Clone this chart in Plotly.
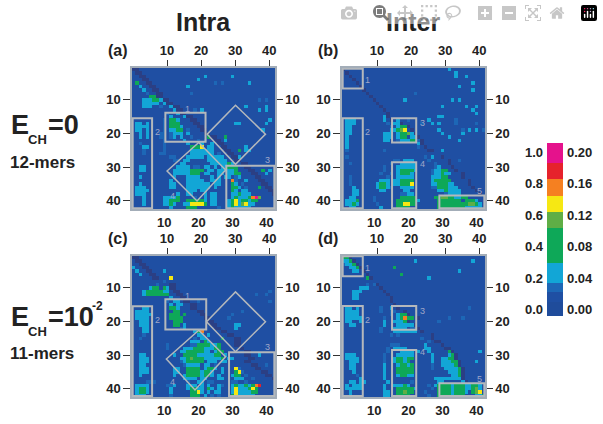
import plotly.graph_objects as go

W, H = 603, 424
# cell levels: . background, d diagonal, a-b blue/cyan, g green, l light green, y yellow, o orange, r red, m magenta
level_values = {".": 0.05, "d": -0.025, "a": 0.14, "b": 0.25, "g": 0.42, "l": 0.57, "y": 0.67, "o": 0.76, "r": 0.86, "m": 1.0}
cbar_edges = [-0.04, 0.05, 0.11, 0.17, 0.30, 0.52, 0.62, 0.72, 0.83, 0.936, 1.06]
cbar_levels = [0.0, 0.05, 0.14, 0.25, 0.42, 0.57, 0.67, 0.76, 0.86, 1.0]

rows_a = [
"dd........................................",
".dd.......................................",
"..dd.................b.......b............",
"...dd..............b......................",
".g..dd..................a.a.......b.......",
"..b..dd.........b.........................",
"...b..dd..................................",
"....a..dd........a........................",
".....ggdd.................................",
"...bbbggbdd..........................a.a..",
"...bbbbb.bdd..............................",
"...bbb..a..bdd...................b.....b..",
"............bdd...a.b................b.b..",
"..........a..bdd..........................",
"...........b...bdd........................",
".........a.ggb...dd.....................b.",
".bb.b....a.ggg....dd..........bb.......b..",
".bbbb....a.gggb....dd.....................",
".bb.b....a.bbgg.a...dd................b...",
"..b.b...aa.abbb.b....dd...................",
"..b.b...aa.ab.b..a....gdd..g..............",
".........a.....b...a.a..dd.b..............",
"..a......a......b...b..b.dd...............",
"...bb....a.......gggy.bb..dd.....b........",
"...a.....a.......bbbbbbb...dd..g.bb.......",
"...a....aa.......bbbbbbb.a..dd............",
"...........aa...bbbbb.bbbbb..ddb..........",
"............aa.bb.....bbbbbb..dd..........",
"..............bb.......bbbbbgb..dd........",
"..bb.........bbbb.aa.bb.b.bbggg..dd.......",
"..bb........bbbbbgggg.bb.bbbbbg...dd..g.b.",
"............bbbbbggg.bb..bb.bbgg...dd..b..",
"..b.........b...bbbb...b.b.bb.ab....dd....",
"...........b....bbbbb..bbb...oa..b...dd...",
"..b........bb...bbbbbbb.bb...gb.a.....dd..",
".bbb.......bb...bbbbbbb.b....ggb.a...g.dd.",
".bbbb...........bbb.bb.......gb.bb......dd",
".bbb.........b..bb...b.bb....bbgbbb......d",
"...b.....bbbbg....a..b.bb....bgbbbgoml....",
"...b.....bbggg..gggggb.bb...bgybggbgg.....",
"...b.....bbgb..bbyyyyg.bb...bgyblybb......",
"...........b....ggg......a..bgbbbbb.......",
]
rows_b = [
"d..............................b..........",
".d...............................b........",
"..d..............................b..b.....",
"...d......................................",
"....d.................................b...",
".....d............................b.......",
"......d...............................b...",
".......d.............a....................",
"........d.................................",
".........d........b.............b.b........",
"..........d................................",
"...........d.................b......b..b..",
"............d.........................b...",
".............d.........................b...",
"............bd..............bb.............",
".bbb........b.d.b..a.....b.......a........",
".bbb.........a.bbd.....a..b.b....a.....a...",
".bb...........a.bggd......................",
".bb...........bbgly.d.......b......a.b.b.a.",
".bb.........bbb.bgglbd.......b.....b.......",
".b..........bbb.bgg.bbd........b...........",
".b..........bb..abbbggad..........b........",
".b....................bd...................",
".b....................a.d..................",
".a..........a............dd..b...............",
"..............................................",
".a......................a.b..d.............",
"...............aa.bbb....a.....d..a.........",
"..a...........a..bbbbb.....a...d.............",
"............a...bbbbbb.....ab...d........",
"............a...bggggb....abbgg..d.........",
"...........a..a.bgggb.....abbgbb...d......",
"..a..........a..bbbbb.....bbbgg....d......",
"..a........bbb.bbgggg.....bggggg.....d.....",
"..a.......bggb.bbgggy.....bbgggbb....d.....",
"...b......bggba..bbbb.....aagggbbb....d....",
"...bb......bb.....bb........bbgbbbb....d...",
"...bb............aabb.........abbbb.....d..",
"..bb.....a.......ggggg.....ggllggbbgg.....d",
".bbbg....a......ggggggb.....ggggggg.gggb..",
".bbgb.....a.....ggyygg......gggggggggllgb.",
"..bb.......b....gggg........ggggggggbbbbb.",
]
rows_c = [
"dd........................................",
".dd.......................................",
"..dd..........................................",
"b..dd.....................................",
".b..dd...b................................",
"..b..dd.......................................",
"......dd...y..............................",
".........a..............................",
".......a...dd.......................................",
".....bgg.gbdd.............................",
"...bgggggbb.dd..........................a..",
"...bggggggg..dd.....................a..a..",
"...........b..dd..........................",
"..........a.bb.dd..a....................a..",
"...........b.bb..dd.......................",
"...bb......ggb...dd..........................",
".bbbb.......gg.....dd...........a.........",
".bbbbb.....ggg.g....dd.......a............",
".bbbb......gggg......dd.....a.............",
"..bbb.......ggg.......dd..................",
"..bbb.......gg.b.......dd.....bb..........",
"...bb.........ab........dd....b.............",
"...bb.............bgo.....dd...............",
"...a...............bb.b.....dd..............",
"..a...............a.bb....g...dd...........",
".................bbb.gb.......dd............",
"..........a......aaggggbbg....dd..........",
"..........a....bbbgggbbbgg.....dd..........",
"..............bbgggggbb.bgg......dd........",
"..bb........b..ggggbbbbbgg.b.....dd..b.....",
"..bbb.........bbglgggbbbbbg.bb....dd........",
"..bbb.........abggggg.bbb.bb.....dd......",
"..bb...........abbbb.bb.a..........dd..a...",
"..bbb.......bb..gggg.bggb.b...ya....dd.....",
"..bbb.......bb..ggggbggb..b...gya.....dd...",
"..b.........b..bggggbggb.b...bgg.a.....dd..",
"...............bbbb.bb...bb...bbb..a.....dd",
"....aaa.........a..bb.aa.....aa..a........d",
".bbbb.....aab...bbb.b.b..ba..bgbbgbgor.....",
".bggb......b....bggbb.gb.b...bybbbgyg......",
".bggb......b.....ggyb.b.bb...bybbbbgg.......",
".bbb.......a.....ggg.b.a.a...gybbbbb.......",
]
rows_d = [
"ggd...........................................",
"bbgd.................b................b.....",
"abbgd..........................................",
"..bbgd.........g...........................",
"...bb.d...........................b.......",
".......d.........g.......................",
".......gd................b...............",
".................................................",
".......a.ad................................",
".....bbb...d..............................",
"...bbb......d.............................",
"...bb........d...............................",
"...bb.........d...........................",
"..............d............................",
"...............d..........................",
".bb.b......a..b.d....................a...",
".bbbb......a..aa..d.....................",
".bbbb.........a.bggd....................",
".bbbbb......a...bgogg.d........a...a.......",
".bb..b......b..bbbgd........a...........",
"..bb........b...bbbbbd.....................",
"...........a...bbbb.aad.....................",
"...........a...bbbbbbb.d..............",
"..............a.a.........d.................",
".......................a..d................",
".........................a.dd...............",
"..............aaa.......b....d.............",
".............a.bbbb.....bb....dd...........",
".............a...bbbb.b..b.....gd.......b..",
".bbb........a...bbbbb.....b....bgd........b",
".bbbb.......a..bggbgg.....b..bbggd.........",
"..bbb.......a..bggbg......b..bbbggd....b..",
"..bb........b...bggbg.....a..bbbbgd........",
"..bb........b...ggggg.....a...bbbbgd.......",
"...b........b...ggggg..........bbbgd.......",
"....a.......b...bggbb...........bbgd.......",
".....b......b..............bbbbbbbbd.......",
"..bb.bb......b......a.......bb.....bd.......",
".b.bbb......b..bbbgb.....a.bggggbgggbbggb...",
".bbbbb......b...gggggb....a.ggggbgggbbglb...",
"..b.........bb..gglgg...a...ggggbgggb.gly...",
"..b.........bb..gggg.....a..ggggbggg...bbgb.",
]
rows_by_panel = [rows_a, rows_b, rows_c, rows_d]
panel_names = ["(a)", "(b)", "(c)", "(d)"]
panel_x = [(132, 275), (342, 485), (132, 275), (342, 485)]
panel_y = [(68, 209), (68, 209), (256, 397), (256, 397)]
tick_values = [10, 20, 30, 40]

# boxes: col0,col1,row0,row1,label,labelcol,labelrow
boxes = [
    [(10.3, 22.1, 13.8, 22.5, "1", 16.8, 12.8), (0.7, 6.4, 15.5, 42.3, "2", 8, 19.6), (28.2, 42.3, 29.6, 42.3, "3", 40.3, 27.8)],
    [(0.7, 6.6, 0.7, 6.6, "1", 8, 4), (0.7, 6.6, 15.5, 42.3, "2", 8, 19.6), (15.2, 22.3, 15.5, 22.7, "3", 24, 17), (15.2, 22.3, 28.6, 42.3, "4", 24, 29), (29.1, 42.3, 38.5, 42.3, "5", 41, 37)],
    [(10.3, 22.3, 13.4, 22.4, "1", 16.8, 12.4), (0.7, 6.4, 15.5, 42.2, "2", 8, 19.6), (29.0, 42.3, 29.2, 42.2, "3", 40.3, 27.7)],
    [(0.7, 6.6, 0.6, 6.5, "1", 8, 4), (0.7, 6.6, 15.4, 42.2, "2", 8, 19.6), (15.2, 22.3, 15.4, 22.5, "3", 24, 17), (15.2, 22.3, 28.5, 42.2, "4", 24, 29), (29.1, 42.3, 38.4, 42.2, "5", 41, 37)],
]
# diamonds: four (col,row) corners
diamonds = [
    [[(22.6, 20.2), (30.9, 11.6), (39.7, 20.2), (30.9, 29.2)], [(10.8, 31.2), (20.1, 22.7), (28, 30.9), (19.6, 40.1)]],
    [],
    [[(22.4, 20.1), (30.9, 11.2), (39.7, 20.1), (30.9, 29)], [(10.6, 31.2), (20.1, 22.6), (28, 30.5), (19, 40.4)]],
    [],
]
diamond_labels = [[("4", 12.5, 38.5)], [], [("4", 12.5, 38.0)], []]

seg = [(-0.04, "#2b3f84"), (-0.01, "#1f4c9b"), (0.025, "#1f4fa3"), (0.11, "#1d67b6"), (0.17, "#12a6d6"), (0.30, "#0ea858"), (0.52, "#5fae46"), (0.62, "#f6e813"), (0.72, "#f58021"), (0.83, "#e6222c"), (0.936, "#e5128c"), (1.06, None)]
lo, hi = -0.04, 1.06
colorscale = []
for i in range(len(seg) - 1):
    a = (seg[i][0] - lo) / (hi - lo)
    b = (seg[i + 1][0] - lo) / (hi - lo)
    colorscale += [[a, seg[i][1]], [b, seg[i][1]]]
colorscale[0][0] = 0.0
colorscale[-1][0] = 1.0

FONT = "Liberation Sans"
TXT = "#222222"
GREY = "#b4b8bc"
fig = go.Figure()
layout = dict(width=W, height=H, margin=dict(l=0, r=0, t=0, b=0), autosize=False,
              paper_bgcolor="white", plot_bgcolor="#1f4fa3", showlegend=False,
              font=dict(family=FONT, color=TXT, size=12))
shapes, annotations = [], []

def px(x, y):
    return x / W, 1 - y / H

def label(x, y, text, size, xanchor="center", yanchor="middle", color=TXT, bold=True):
    ax, ay = px(x, y)
    annotations.append(dict(xref="paper", yref="paper", x=ax, y=ay, text=f"<b>{text}</b>" if bold else text,
                            showarrow=False, xanchor=xanchor, yanchor=yanchor,
                            font=dict(family=FONT, size=size, color=color), borderpad=0, borderwidth=0))

for k, rows in enumerate(rows_by_panel):
    n = 4 * k + 1
    xb, xt, yl, yr = f"x{n}", f"x{n + 1}", f"y{n}", f"y{n + 1}"
    z = [[level_values.get(c, 0.05) for c in r.ljust(42, ".")[:42]] for r in rows]
    fig.add_trace(go.Heatmap(z=z, x=list(range(1, 43)), y=list(range(1, 43)), zmin=lo, zmax=hi,
                             colorscale=colorscale, showscale=False, xaxis=xb, yaxis=yl, hoverinfo="skip"))
    # second pair of axes carries the shifted top and right scales
    fig.add_trace(go.Scatter(x=[10], y=[10], mode="markers", marker=dict(opacity=0), xaxis=xt, yaxis=yr, hoverinfo="skip"))
    x0, x1 = panel_x[k]
    y0, y1 = panel_y[k]
    dom_x = [x0 / W, x1 / W]
    dom_y = [1 - y1 / H, 1 - y0 / H]
    tickf = dict(family=FONT, size=13, color=TXT)
    txt = [f"<b>{v}</b>" for v in tick_values]
    layout[f"xaxis{n}"] = dict(domain=dom_x, range=[0.5, 42.5], anchor=yl, side="bottom", tickvals=tick_values, ticktext=txt,
                              ticks="", tickfont=tickf, showgrid=False, zeroline=False, showline=True, linecolor="#a3adb8", linewidth=1.5, ticklabelstandoff=1)
    layout[f"xaxis{n + 1}"] = dict(domain=dom_x, range=[-0.3, 41.7], anchor=yr, overlaying=xb, side="top", tickvals=tick_values, ticktext=txt,
                                  ticks="outside", ticklen=6, tickwidth=1.2, tickcolor="#333", tickfont=tickf, showgrid=False, zeroline=False,
                                  showline=True, linecolor="#a3adb8", linewidth=1.5)
    layout[f"yaxis{n}"] = dict(domain=dom_y, range=[42.5, 0.5], anchor=xb, side="left", tickvals=tick_values, ticktext=txt,
                              ticks="outside", ticklen=7, tickwidth=1.2, tickcolor="#333", tickfont=tickf, showgrid=False, zeroline=False,
                              showline=True, linecolor="#a3adb8", linewidth=1.5)
    layout[f"yaxis{n + 1}"] = dict(domain=dom_y, range=[42.5, 0.5], anchor=xt, overlaying=yl, side="right", tickvals=tick_values, ticktext=txt,
                                  ticks="outside", ticklen=6, tickwidth=1.2, tickcolor="#333", tickfont=tickf, showgrid=False, zeroline=False,
                                  showline=True, linecolor="#a3adb8", linewidth=1.5)
    for c0, c1, r0, r1, t, tc, tr in boxes[k]:
        shapes.append(dict(type="rect", xref=xb, yref=yl, x0=c0, x1=c1, y0=r0, y1=r1, line=dict(color=GREY, width=2)))
        annotations.append(dict(xref=xb, yref=yl, x=tc, y=tr, text=t, showarrow=False, font=dict(family=FONT, size=9, color="#9fa6c8")))
    for corners in diamonds[k]:
        path = "M " + " L ".join(f"{c},{r}" for c, r in corners) + " Z"
        shapes.append(dict(type="path", xref=xb, yref=yl, path=path, line=dict(color=GREY, width=1.5)))
    for t, tc, tr in diamond_labels[k]:
        annotations.append(dict(xref=xb, yref=yl, x=tc, y=tr, text=t, showarrow=False, font=dict(family=FONT, size=9, color="#9fa6c8")))
    label(x0 - 14, y0 - 18, panel_names[k], 16)

# colour bar
fig.add_trace(go.Heatmap(z=[[v] for v in cbar_levels], x=[0], y=cbar_edges, zmin=lo, zmax=hi, colorscale=colorscale,
                         showscale=False, xaxis="x17", yaxis="y17", hoverinfo="skip"))
fig.add_trace(go.Scatter(x=[0], y=[0.5], mode="markers", marker=dict(opacity=0), xaxis="x17", yaxis="y18", hoverinfo="skip"))
cb_dom_y = [1 - 316 / H, 1 - 143 / H]
cb_left_vals = [0.0, 0.2, 0.4, 0.6, 0.8, 1.0]
cb_left_text = ["<b>0.0</b>", "<b>0.2</b>", "<b>0.4</b>", "<b>0.6</b>", "<b>0.8</b>", "<b>1.0</b>"]
cb_right_text = ["<b>0.00</b>", "<b>0.04</b>", "<b>0.08</b>", "<b>0.12</b>", "<b>0.16</b>", "<b>0.20</b>"]
cbf = dict(family=FONT, size=13, color=TXT)
layout["xaxis17"] = dict(domain=[547 / W, 563 / W], range=[-0.5, 0.5], anchor="y17", visible=False)
layout["yaxis17"] = dict(domain=cb_dom_y, range=[lo, hi], anchor="x17", side="left", tickvals=cb_left_vals, ticktext=cb_left_text,
                         tickfont=cbf, ticks="", showgrid=False, zeroline=False, showline=False, ticklabelstandoff=3)
layout["yaxis18"] = dict(domain=cb_dom_y, range=[lo, hi], anchor="x17", overlaying="y17", side="right", tickvals=cb_left_vals, ticktext=cb_right_text,
                         tickfont=cbf, ticks="", showgrid=False, zeroline=False, showline=False, ticklabelstandoff=3)

# headings
label(203, 22, "Intra", 25)
label(413, 22, "Inter", 25)
label(11, 125, "E", 27, xanchor="left")
label(28, 139, "CH", 13, xanchor="left")
label(48, 125, "=0", 27, xanchor="left")
label(10, 162, "12-mers", 17, xanchor="left")
label(11, 317, "E", 27, xanchor="left")
label(28, 331, "CH", 13, xanchor="left")
label(48, 317, "=10", 27, xanchor="left")
label(92, 306, "-2", 12, xanchor="left")
label(10, 353, "11-mers", 17, xanchor="left")

layout["shapes"] = shapes
layout["annotations"] = annotations
fig.update_layout(**layout)
fig.write_html("out.html", post_script="document.body.style.margin='0';")
